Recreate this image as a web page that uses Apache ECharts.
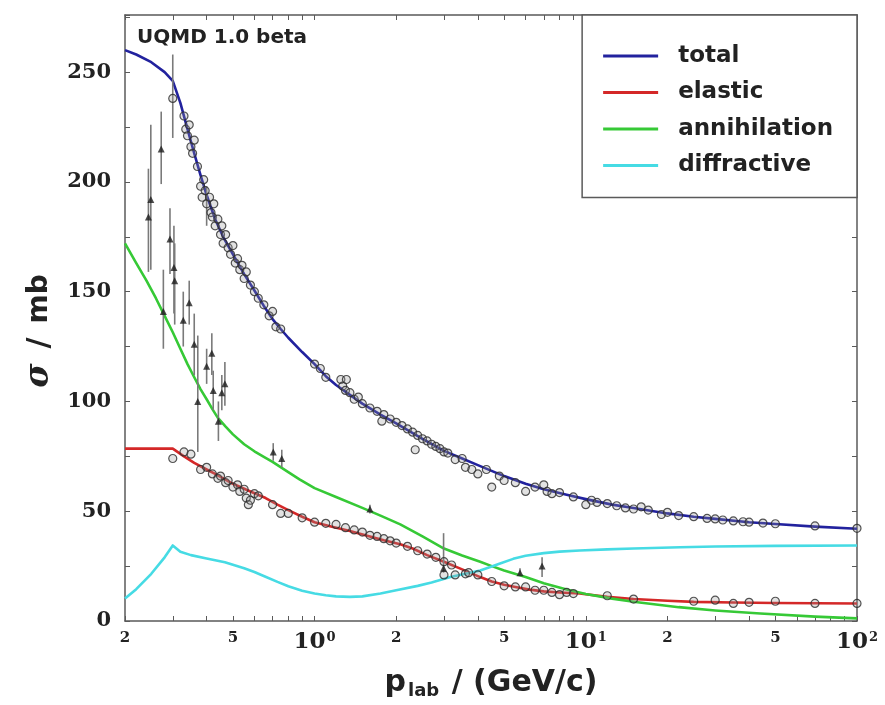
<!DOCTYPE html>
<html>
<head>
<meta charset="utf-8">
<script src="https://cdn.jsdelivr.net/npm/echarts@6.0.0/dist/echarts.min.js"></script>
<style>
html, body { margin: 0; padding: 0; background: #fff; }
#chart { width: 885px; height: 705px; }
</style>
</head>
<body>
<div id="chart"></div>
<script>
// model curves [p_lab (GeV/c), sigma (mb)]
const totalCurve = [[0.2,260],[0.22,258],[0.25,254.5],[0.28,250],[0.3,246],[0.32,236],[0.34,224],[0.36,213],[0.38,203],[0.4,194],[0.43,183],[0.46,175],[0.5,167],[0.55,158],[0.6,150.5],[0.65,143.5],[0.7,137.5],[0.75,133],[0.8,129],[0.9,122.5],[1.0,117],[1.1,111.5],[1.2,107.5],[1.35,103],[1.5,99],[1.75,94],[2,90],[2.5,83],[3,77.5],[3.5,74],[4,71],[5,66],[6,62.5],[7,60],[8.5,57.5],[10,55.5],[12.5,53],[15,51.5],[20,49],[25,47.5],[30,46.5],[40,45],[50,44.2],[70,43],[100,42]]
const elasticCurve = [[0.2,78.5],[0.3,78.5],[0.33,75],[0.36,72],[0.4,69],[0.43,67],[0.5,62.5],[0.58,59],[0.66,56],[0.73,53],[0.8,50.5],[0.9,47.5],[1.0,45],[1.15,43],[1.35,41],[1.6,38.5],[1.8,36.8],[2.07,35],[2.3,33],[2.6,30],[3.0,27],[3.5,23.5],[4.08,20],[4.5,18],[5,16.5],[5.5,15.5],[6.2,14.3],[7,13.5],[8,13],[9.5,12.5],[12,11],[15,10],[20,9.2],[25,8.7],[35,8.4],[50,8.2],[100,8]]
const annihilationCurve = [[0.2,172],[0.22,163],[0.24,155],[0.26,147],[0.28,139],[0.3,131.5],[0.32,124],[0.34,117],[0.36,111],[0.38,105.5],[0.4,101],[0.42,96.5],[0.44,92.5],[0.47,88.5],[0.5,85],[0.55,80.5],[0.6,77.3],[0.65,74.8],[0.7,72.5],[0.8,67.8],[0.88,64.5],[1.0,60.5],[1.2,56.5],[1.5,51.5],[1.75,48],[2.07,44],[2.5,38.5],[3.0,33],[3.5,29.8],[4.08,27],[4.5,25],[5,23],[6,20],[7,17.2],[8.5,14.3],[10,12.3],[12.5,10.2],[15,8.8],[18.8,7.3],[22,6.3],[30,4.8],[44,3.4],[70,2],[100,1.2]]
const diffractiveCurve = [[0.2,10.2],[0.22,14.5],[0.25,21.5],[0.28,29],[0.3,34.4],[0.32,31.5],[0.35,30],[0.4,28.5],[0.467,26.8],[0.55,24],[0.6,22.3],[0.656,20.3],[0.73,17.8],[0.8,15.8],[0.9,13.8],[1.0,12.5],[1.1,11.7],[1.2,11.2],[1.35,11],[1.5,11.2],[1.75,12.5],[2,14],[2.4,16],[2.7,17.5],[3.17,20],[3.6,21.5],[4.08,23],[4.5,24.8],[4.83,26.2],[5.4,28.3],[6,29.7],[7,30.9],[8,31.6],[9.5,32.1],[12,32.6],[15,33],[22.3,33.6],[30,33.9],[50,34.2],[100,34.4]]

// measured points
const totalData = [[0.3,238],[0.33,230],[0.335,224],[0.34,221],[0.345,226],[0.35,216],[0.355,213],[0.36,219],[0.37,207],[0.38,198],[0.385,193],[0.39,201],[0.395,196],[0.4,190],[0.41,193],[0.415,186],[0.42,184],[0.425,190],[0.43,180],[0.44,183],[0.45,176],[0.455,180],[0.46,172],[0.47,176],[0.48,170],[0.49,167],[0.5,171],[0.51,163],[0.52,165],[0.53,160],[0.54,162],[0.55,156],[0.56,159],[0.58,153],[0.6,150],[0.62,147],[0.65,144],[0.68,139],[0.7,141],[0.72,134],[0.75,133],[1.0,117],[1.05,115],[1.1,111],[1.25,110],[1.27,107],[1.3,105],[1.31,110],[1.35,104],[1.4,101],[1.45,102],[1.5,99],[1.6,97],[1.7,95.5],[1.77,91],[1.8,94],[1.9,92],[2.0,90.5],[2.1,89],[2.2,87.5],[2.3,86],[2.35,78],[2.4,84.5],[2.5,83],[2.6,82],[2.7,80.5],[2.8,79.5],[2.9,78.5],[3.0,77],[3.1,76.5],[3.3,73.5],[3.5,74],[3.6,70],[3.8,69],[4.0,67],[4.3,69],[4.5,61],[4.8,66],[5.0,64],[5.5,63],[6.0,59],[6.5,61],[7.0,62],[7.2,59],[7.5,58],[8.0,58.5],[9.0,56.5],[10,53],[10.5,55],[11,54],[12,53.5],[13,52.5],[14,51.5],[15,51],[16,52],[17,50.5],[19,48.5],[20,49.5],[22,48],[25,47.5],[28,46.7],[30,46.5],[32,46],[35,45.6],[38,45.2],[40,45],[45,44.6],[50,44.3],[70,43.3],[100,42.2]]
const elasticData = [[0.3,74],[0.33,77],[0.35,76],[0.38,69],[0.4,70],[0.42,67],[0.44,65],[0.45,66],[0.47,63],[0.48,64],[0.5,61],[0.52,62],[0.53,59],[0.55,60],[0.56,56],[0.57,53],[0.58,55],[0.6,58],[0.62,57],[0.7,53],[0.75,49],[0.8,49],[0.9,47],[1.0,45],[1.1,44.5],[1.2,44],[1.3,42.5],[1.4,41.5],[1.5,40.5],[1.6,39],[1.7,38.5],[1.8,37.5],[1.9,36.5],[2.0,35.5],[2.2,34],[2.4,32],[2.6,30.5],[2.8,29],[3.0,21],[3.0,27],[3.2,25.5],[3.3,21],[3.6,21.5],[3.7,22],[4.0,21],[4.5,18],[5.0,16],[5.5,15.5],[6.0,15.5],[6.5,14],[7.0,14],[7.5,13],[8.0,12],[8.5,13],[9,12.5],[12,11.5],[15,10],[25,9],[30,9.5],[35,8],[40,8.5],[50,9],[70,8],[100,8]]
// [p, sigma, low, high]
const annihilationData = [[0.244,184,159,206],[0.249,192,160,226],[0.272,215,199,232],[0.277,141,124,160],[0.293,174,158,188],[0.303,161,140,180],[0.305,155,135,172],[0.328,137,125,150],[0.345,145,135,155],[0.36,126,112,140],[0.371,100,77,130],[0.4,116,108,124],[0.418,122,112,131],[0.423,105,96,114],[0.442,91,82,100],[0.455,104,96,112],[0.467,108,98,118],[0.704,77,73,81],[0.757,74,70,78],[1.6,51,49,53],[2.99,24,22,40],[5.72,22,21,24],[6.9,25,20,29]]
const totalBars = [[0.3,238,220,258],[0.4,186,180,198]]

const xTickValues = [0.2,0.3,0.4,0.5,0.6,0.7,0.8,0.9,1,2,3,4,5,6,7,8,9,10,20,30,40,50,60,70,80,90,100]
const xLabelValues = [0.2,0.5,1,2,5,10,20,50,100]
const xLabelText = ['{m|2}','{m|5}','{b|10}{s|0}','{m|2}','{m|5}','{b|10}{s|1}','{m|2}','{m|5}','{b|10}{s|2}']
const seriesNames = ['total','elastic','annihilation','diffractive']
const seriesColors = ['#22229e','#d42828','#36c936','#46dbe4']

const chart = echarts.init(document.getElementById('chart'))

const serifFont = '"DejaVu Serif", serif'
const sansFont = '"DejaVu Sans", sans-serif'
const frameColor = '#5a5a5a'
const textColor = '#222'

const xLabelFormatter = (v) => {
  const i = xLabelValues.findIndex(x => Math.abs(x - v) / x < 1e-6)
  return i >= 0 ? xLabelText[i] : ''
}

const errorBar = (params, api) => {
  const a = api.coord([api.value(0), api.value(2)])
  const b = api.coord([api.value(0), api.value(3)])
  return {
    type: 'line',
    shape: { x1: a[0], y1: a[1], x2: b[0], y2: b[1] },
    style: { stroke: '#7a7a7a', lineWidth: 1.6 }
  }
}

const curves = [totalCurve, elasticCurve, annihilationCurve, diffractiveCurve].map((d, i) => ({
  name: seriesNames[i],
  type: 'line',
  data: d,
  showSymbol: false,
  lineStyle: { color: seriesColors[i], width: 2.6, join: 'round' },
  itemStyle: { color: seriesColors[i] },
  z: 2
}))

const option = {
  animation: false,
  title: {
    text: 'UQMD 1.0 beta',
    left: 137,
    top: 28,
    padding: 0,
    textStyle: { fontFamily: sansFont, fontWeight: 'bold', fontSize: 20, color: textColor }
  },
  legend: {
    data: seriesNames,
    right: 28,
    top: 15,
    orient: 'vertical',
    icon: 'rect',
    itemWidth: 55,
    itemHeight: 3,
    itemGap: 10.5,
    padding: [28, 24, 19, 21],
    borderColor: frameColor,
    borderWidth: 1.5,
    backgroundColor: '#fff',
    textStyle: {
      fontFamily: sansFont,
      fontWeight: 'bold',
      fontSize: 23,
      lineHeight: 26,
      color: textColor,
      padding: [0, 0, 0, 15]
    }
  },
  grid: { left: 125, right: 28, top: 15, bottom: 81, show: false },
  xAxis: [
    {
      type: 'log',
      logBase: 10,
      min: 0.2,
      max: 100,
      name: '{p|p}{sub|lab}{p| / (GeV/c)}',
      nameLocation: 'middle',
      nameGap: 45,
      nameTextStyle: {
        rich: {
          p: { fontFamily: sansFont, fontWeight: 'bold', fontSize: 30, color: textColor },
          sub: { fontFamily: sansFont, fontWeight: 'bold', fontSize: 18, color: textColor, verticalAlign: 'bottom', padding: [16, 2, 0, 2] }
        }
      },
      axisLine: { show: true, onZero: false, lineStyle: { color: frameColor, width: 1.5 } },
      axisTick: { show: true, inside: true, length: 5, customValues: xTickValues, lineStyle: { color: frameColor } },
      axisLabel: {
        customValues: xLabelValues,
        margin: 10,
        formatter: xLabelFormatter,
        rich: {
          m: { fontFamily: serifFont, fontWeight: 'bold', fontSize: 15, color: textColor },
          b: { fontFamily: serifFont, fontWeight: 'bold', fontSize: 23, color: textColor },
          s: { fontFamily: serifFont, fontWeight: 'bold', fontSize: 13, color: textColor, verticalAlign: 'top', padding: [0, 0, 10, 1] }
        }
      },
      splitLine: { show: false }
    },
    {
      type: 'log',
      logBase: 10,
      min: 0.2,
      max: 100,
      position: 'top',
      axisLine: { show: true, onZero: false, lineStyle: { color: frameColor, width: 1.5 } },
      axisTick: { show: true, inside: true, length: 5, customValues: xTickValues, lineStyle: { color: frameColor } },
      axisLabel: { show: false },
      splitLine: { show: false }
    }
  ],
  yAxis: [
    {
      type: 'value',
      min: 0,
      max: 276,
      interval: 25,
      name: '{i|σ}{s|/}{t|mb}',
      nameLocation: 'middle',
      nameGap: 60,
      nameTextStyle: {
        padding: [0, 26, 0, 0],
        rich: {
          i: { fontFamily: serifFont, fontStyle: 'italic', fontWeight: 'bold', fontSize: 33, color: textColor },
          s: { fontFamily: sansFont, fontWeight: 'bold', fontSize: 30, color: textColor, padding: [0, 14, 0, 15] },
          t: { fontFamily: sansFont, fontWeight: 'bold', fontSize: 28, color: textColor }
        }
      },
      axisLine: { show: true, onZero: false, lineStyle: { color: frameColor, width: 1.5 } },
      axisTick: { show: true, inside: true, length: 5, lineStyle: { color: frameColor } },
      axisLabel: {
        margin: 14,
        fontFamily: serifFont,
        fontWeight: 'bold',
        fontSize: 21,
        color: textColor,
        formatter: v => (v % 50 === 0 ? String(v) : '')
      },
      splitLine: { show: false }
    },
    {
      type: 'value',
      min: 0,
      max: 276,
      interval: 25,
      position: 'right',
      axisLine: { show: true, onZero: false, lineStyle: { color: frameColor, width: 1.5 } },
      axisTick: { show: true, inside: true, length: 5, lineStyle: { color: frameColor } },
      axisLabel: { show: false },
      splitLine: { show: false }
    }
  ],
  series: [
    ...curves,
    {
      name: 'bars',
      type: 'custom',
      renderItem: errorBar,
      data: annihilationData.concat(totalBars),
      encode: { x: 0, y: [2, 3] },
      z: 3
    },
    {
      name: 'totalData',
      type: 'scatter',
      data: totalData,
      symbol: 'circle',
      symbolSize: 8,
      itemStyle: { color: 'rgba(150,150,150,0.35)', borderColor: '#2a2a2a', borderWidth: 1.2 },
      z: 4
    },
    {
      name: 'elasticData',
      type: 'scatter',
      data: elasticData,
      symbol: 'circle',
      symbolSize: 8,
      itemStyle: { color: 'rgba(150,150,150,0.35)', borderColor: '#2a2a2a', borderWidth: 1.2 },
      z: 4
    },
    {
      name: 'annihilationData',
      type: 'scatter',
      data: annihilationData.map(d => [d[0], d[1]]),
      symbol: 'triangle',
      symbolSize: 7,
      itemStyle: { color: '#1e1e1e' },
      z: 5
    }
  ]
}

chart.setOption(option)
</script>
</body>
</html>
